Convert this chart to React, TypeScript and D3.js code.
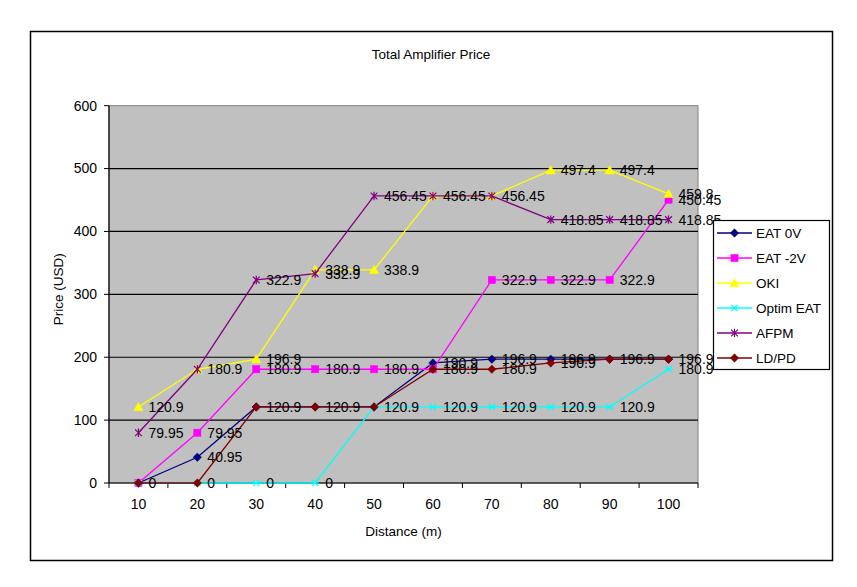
import React from "react";
import * as d3 from "d3";

const categories = ["10", "20", "30", "40", "50", "60", "70", "80", "90", "100"];
const yTicks = [0, 100, 200, 300, 400, 500, 600];

const eat0V = [0, 40.95, 120.9, 120.9, 120.9, 190.9, 196.9, 196.9, 196.9, 196.9];
const eatMinus2V = [0, 79.95, 180.9, 180.9, 180.9, 180.9, 322.9, 322.9, 322.9, 450.45];
const oki = [120.9, 180.9, 196.9, 338.9, 338.9, 456.45, 456.45, 497.4, 497.4, 459.8];
const optimEat = [0, 0, 0, 0, 120.9, 120.9, 120.9, 120.9, 120.9, 180.9];
const afpm = [79.95, 180.9, 322.9, 332.9, 456.45, 456.45, 456.45, 418.85, 418.85, 418.85];
const ldpd = [0, 0, 120.9, 120.9, 120.9, 180.9, 180.9, 190.9, 196.9, 196.9];

const seriesNames = ["EAT 0V", "EAT -2V", "OKI", "Optim EAT", "AFPM", "LD/PD"];
const seriesColors = ["#000080", "#FF00FF", "#FFFF00", "#00FFFF", "#800080", "#800000"];
const seriesMarkers = ["diamond", "square", "triangle", "x", "asterisk", "diamond"];
const seriesValues = [eat0V, eatMinus2V, oki, optimEat, afpm, ldpd];

const FONT = "'Liberation Sans', Arial, sans-serif";
const FS = 13.5;
const FSL = 14;

const plotL = 109, plotR = 698, plotT = 105.7, plotB = 483;

function Marker({ type, x, y, color }: { type: string; x: number; y: number; color: string }) {
  if (type === "diamond") {
    const r = 4.2;
    return <path d={`M${x},${y - r}L${x + r},${y}L${x},${y + r}L${x - r},${y}Z`} fill={color} stroke={color} strokeWidth={0.5} />;
  }
  if (type === "square") {
    const r = 3.6;
    return <rect x={x - r} y={y - r} width={2 * r} height={2 * r} fill={color} stroke={color} strokeWidth={0.5} />;
  }
  if (type === "triangle") {
    const r = 4.6;
    return <path d={`M${x},${y - r}L${x + r},${y + r * 0.8}L${x - r},${y + r * 0.8}Z`} fill={color} stroke={color} strokeWidth={0.5} />;
  }
  if (type === "x") {
    const r = 3.2;
    return (
      <path d={`M${x - r},${y - r}L${x + r},${y + r}M${x - r},${y + r}L${x + r},${y - r}M${x - r - 0.5},${y}L${x + r + 0.5},${y}`} stroke={color} strokeWidth={1.2} fill="none" />
    );
  }
  const r = 3.4;
  return (
    <path d={`M${x - r},${y - r}L${x + r},${y + r}M${x - r},${y + r}L${x + r},${y - r}M${x},${y - r - 0.8}L${x},${y + r + 0.8}`} stroke={color} strokeWidth={1.2} fill="none" />
  );
}

export default function App() {
  const x = d3.scaleBand<string>().domain(categories).range([plotL, plotR]).paddingInner(0).paddingOuter(0);
  const cx = (c: string) => (x(c) as number) + x.bandwidth() / 2;
  const y = d3.scaleLinear().domain([0, 600]).range([plotB, plotT]);
  const line = d3
    .line<number>()
    .x((_, i) => cx(categories[i]))
    .y((v) => y(v));

  const boundaries = d3.range(categories.length + 1).map((i) => plotL + i * x.bandwidth());

  // data labels: identical labels at identical spots render as one
  const seen = new Set<string>();
  const labels: { key: string; x: number; y: number; text: string }[] = [];
  seriesValues.forEach((vals, si) => {
    vals.forEach((v, i) => {
      const k = categories[i] + "|" + v;
      if (seen.has(k)) return;
      seen.add(k);
      labels.push({ key: si + "-" + i, x: cx(categories[i]) + 10, y: y(v), text: String(v) });
    });
  });

  const legendX = 713, legendY = 220, legendW = 116, legendH = 149;

  return (
    <svg width={857} height={587} style={{ position: "absolute", left: 0, top: 0, background: "#fff" }} fontFamily={FONT}>
      <rect x={30.5} y={31.5} width={802} height={529} fill="#fff" stroke="#000" strokeWidth={1.5} />
      <text x={431} y={59} textAnchor="middle" fontSize={FS}>Total Amplifier Price</text>

      <rect x={plotL} y={plotT} width={plotR - plotL} height={plotB - plotT} fill="#C0C0C0" stroke="#808080" strokeWidth={1} />
      {yTicks.filter((t) => t > 0 && t < 600).map((t) => (
        <line key={t} x1={plotL} x2={plotR} y1={y(t)} y2={y(t)} stroke="#000" strokeWidth={1.2} />
      ))}

      {/* y axis */}
      <line x1={plotL} x2={plotL} y1={plotT} y2={plotB} stroke="#000" strokeWidth={1.2} />
      {yTicks.map((t) => (
        <g key={t}>
          <line x1={plotL - 5} x2={plotL} y1={y(t)} y2={y(t)} stroke="#000" />
          <text x={plotL - 12} y={y(t)} dy="0.35em" textAnchor="end" fontSize={FSL}>{t}</text>
        </g>
      ))}
      {/* x axis */}
      <line x1={plotL} x2={plotR} y1={plotB} y2={plotB} stroke="#000" strokeWidth={1.2} />
      {boundaries.map((b, i) => (
        <line key={i} x1={b} x2={b} y1={plotB} y2={plotB + 5} stroke="#000" />
      ))}
      {categories.map((c) => (
        <text key={c} x={cx(c)} y={plotB + 21} dy="0.35em" textAnchor="middle" fontSize={FSL}>{c}</text>
      ))}
      <text x={(plotL + plotR) / 2} y={531} dy="0.35em" textAnchor="middle" fontSize={FS}>Distance (m)</text>
      <text transform={`translate(58,${(plotT + plotB) / 2 - 5}) rotate(-90)`} textAnchor="middle" dy="0.35em" fontSize={FS}>Price (USD)</text>

      {/* series lines and markers */}
      {seriesValues.map((vals, si) => (
        <g key={si}>
          <path d={line(vals) as string} fill="none" stroke={seriesColors[si]} strokeWidth={1.3} />
          {vals.map((v, i) => (
            <Marker key={i} type={seriesMarkers[si]} x={cx(categories[i])} y={y(v)} color={seriesColors[si]} />
          ))}
        </g>
      ))}
      {/* data labels */}
      {labels.map((l) => (
        <text key={l.key} x={l.x} y={l.y} dy="0.35em" fontSize={FSL} fill="#000">{l.text}</text>
      ))}

      {/* legend */}
      <rect x={legendX + 0.5} y={legendY + 0.5} width={legendW} height={legendH} fill="#fff" stroke="#000" strokeWidth={1.2} />
      {seriesNames.map((n, i) => {
        const ly = 233 + i * 25;
        return (
          <g key={n}>
            <line x1={717} x2={752} y1={ly} y2={ly} stroke={seriesColors[i]} strokeWidth={1.3} />
            <Marker type={seriesMarkers[i]} x={734.5} y={ly} color={seriesColors[i]} />
            <text x={756} y={ly} dy="0.35em" fontSize={FS}>{n}</text>
          </g>
        );
      })}
    </svg>
  );
}
